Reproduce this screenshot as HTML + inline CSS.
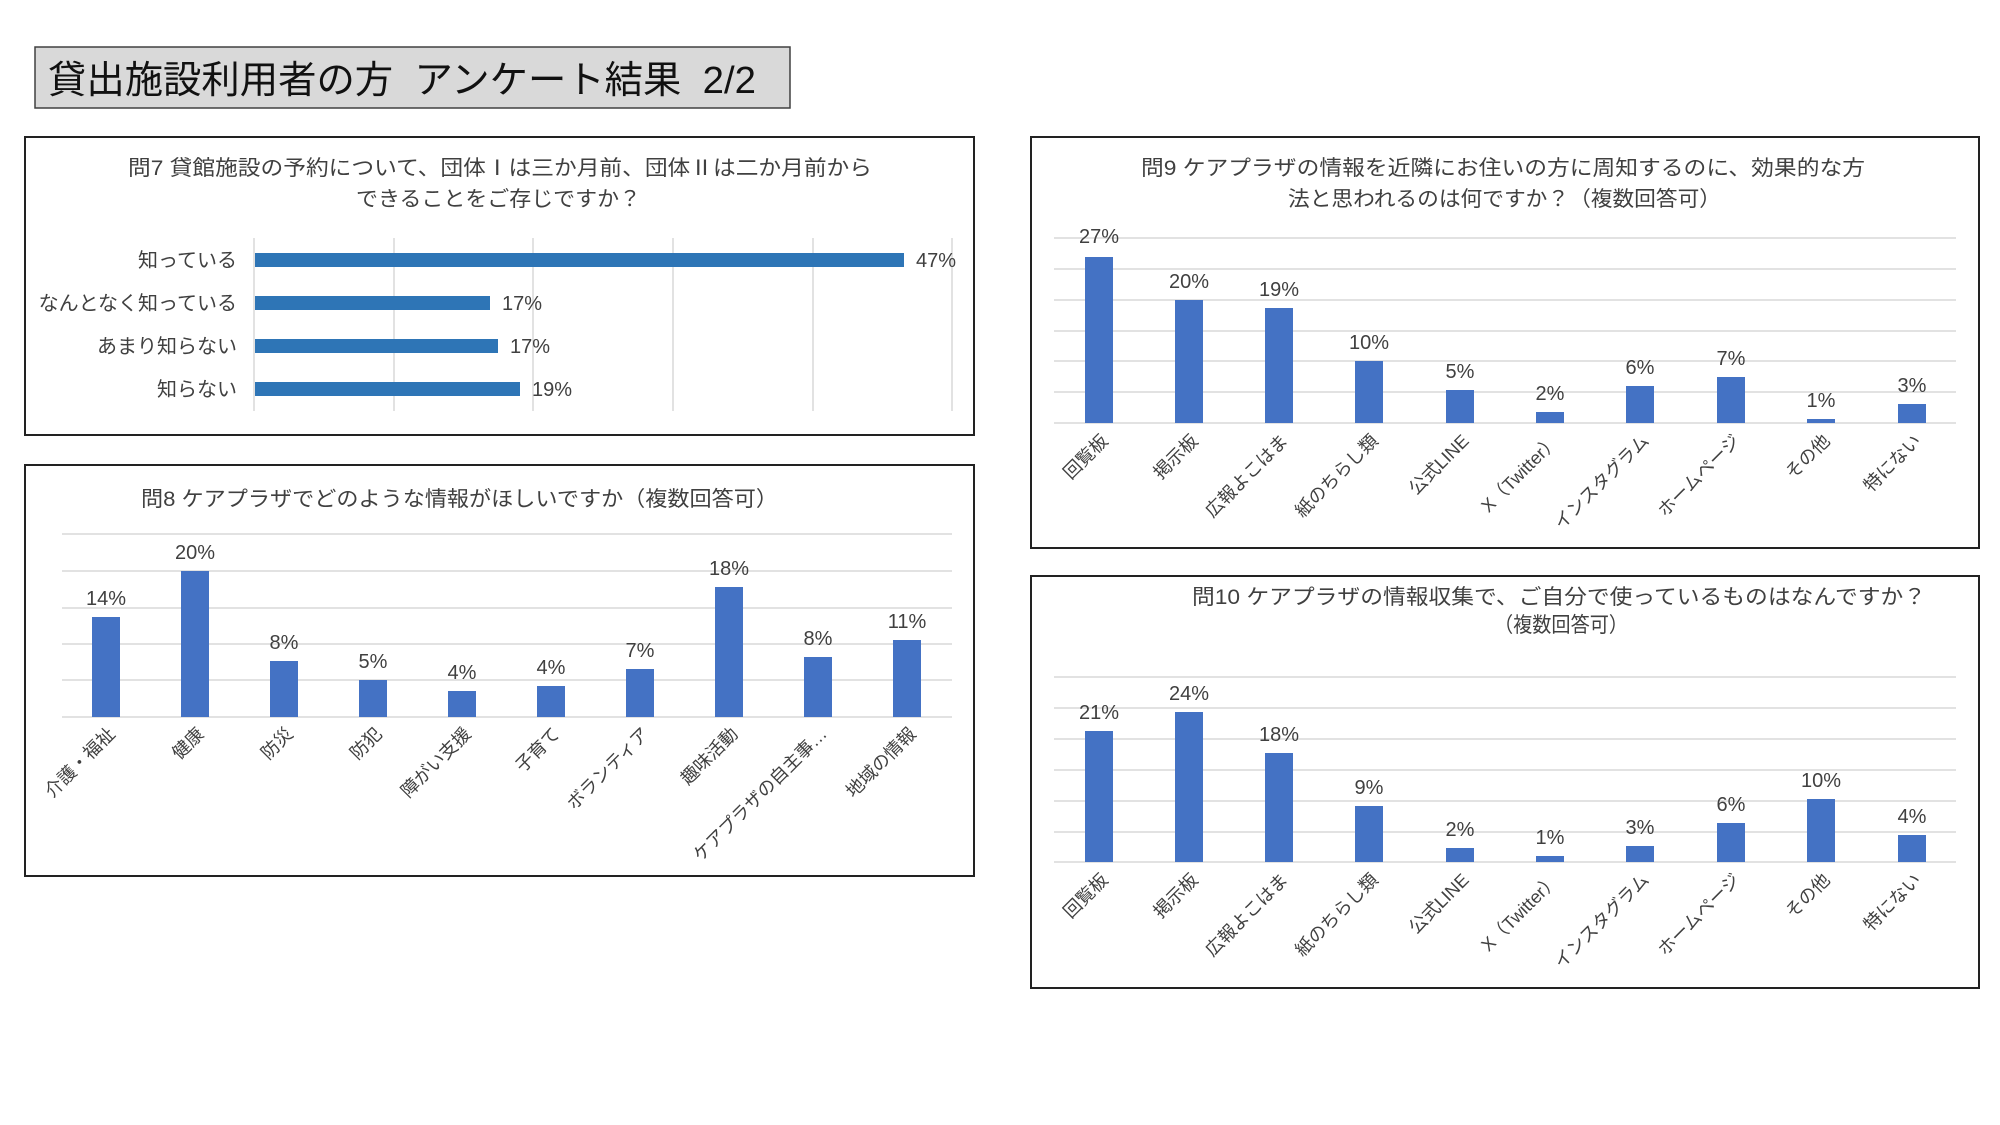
<!DOCTYPE html>
<html><head><meta charset="utf-8"><style>
html,body{margin:0;padding:0;background:#fff;}
svg{display:block;}
text{font-family:"Liberation Sans","Noto Sans CJK JP",sans-serif;fill:#404040;}
.t{font-size:21px;fill:#404040;}
.v{font-size:20px;text-anchor:middle;}
.c{font-size:18px;text-anchor:end;}
.g{stroke:#d9d9d9;stroke-width:1.5;}
.b{fill:#4472c4;}
</style></head><body>
<svg width="2000" height="1125" viewBox="0 0 2000 1125" xmlns="http://www.w3.org/2000/svg">
<rect x="0" y="0" width="2000" height="1125" fill="#fff"/>
<rect x="35" y="47" width="755" height="61" fill="#d9d9d9" stroke="#404040" stroke-width="1.5"/>
<text x="48" y="93" xml:space="preserve" style="font-size:38px;fill:#111;white-space:pre" textLength="708" lengthAdjust="spacingAndGlyphs">貸出施設利用者の方  アンケート結果  2/2</text>

<rect x="25" y="137" width="949" height="298" fill="none" stroke="#222" stroke-width="2"/>
<text class="t" x="128" y="175" textLength="744" lengthAdjust="spacingAndGlyphs">問7 貸館施設の予約について、団体Ⅰは三か月前、団体Ⅱは二か月前から</text>
<text class="t" x="356" y="206" textLength="285" lengthAdjust="spacingAndGlyphs">できることをご存じですか？</text>
<g class="g"><line x1="394" y1="238" x2="394" y2="411"/><line x1="533" y1="238" x2="533" y2="411"/><line x1="673" y1="238" x2="673" y2="411"/><line x1="813" y1="238" x2="813" y2="411"/><line x1="952" y1="238" x2="952" y2="411"/><line x1="254" y1="238" x2="254" y2="411"/></g>
<rect x="255" y="253" width="649" height="14" fill="#2e75b6"/>
<rect x="255" y="296" width="235" height="14" fill="#2e75b6"/>
<rect x="255" y="339" width="243" height="14" fill="#2e75b6"/>
<rect x="255" y="382" width="265" height="14" fill="#2e75b6"/>
<g style="font-size:20px;text-anchor:end"><text x="237" y="267">知っている</text><text x="237" y="310">なんとなく知っている</text><text x="237" y="353">あまり知らない</text><text x="237" y="396">知らない</text></g>
<g style="font-size:20px"><text x="916" y="267">47%</text><text x="502" y="310">17%</text><text x="510" y="353">17%</text><text x="532" y="396">19%</text></g>

<rect x="25" y="465" width="949" height="411" fill="none" stroke="#222" stroke-width="2"/>
<text class="t" x="141" y="506" textLength="637" lengthAdjust="spacingAndGlyphs">問8 ケアプラザでどのような情報がほしいですか（複数回答可）</text>
<g class="g"><line x1="62" y1="534" x2="952" y2="534"/><line x1="62" y1="571" x2="952" y2="571"/><line x1="62" y1="608" x2="952" y2="608"/><line x1="62" y1="644" x2="952" y2="644"/><line x1="62" y1="680" x2="952" y2="680"/><line x1="62" y1="717" x2="952" y2="717"/></g>
<g class="b">
<rect x="92" y="617" width="28" height="100"/><rect x="181" y="571" width="28" height="146"/><rect x="270" y="661" width="28" height="56"/><rect x="359" y="680" width="28" height="37"/><rect x="448" y="691" width="28" height="26"/><rect x="537" y="686" width="28" height="31"/><rect x="626" y="669" width="28" height="48"/><rect x="715" y="587" width="28" height="130"/><rect x="804" y="657" width="28" height="60"/><rect x="893" y="640" width="28" height="77"/>
</g>
<g class="v"><text x="106" y="605">14%</text><text x="195" y="559">20%</text><text x="284" y="649">8%</text><text x="373" y="668">5%</text><text x="462" y="679">4%</text><text x="551" y="674">4%</text><text x="640" y="657">7%</text><text x="729" y="575">18%</text><text x="818" y="645">8%</text><text x="907" y="628">11%</text></g>
<g class="c">
<text x="116" y="735" transform="rotate(-45 116 735)">介護・福祉</text>
<text x="205" y="735" transform="rotate(-45 205 735)">健康</text>
<text x="294" y="735" transform="rotate(-45 294 735)">防災</text>
<text x="383" y="735" transform="rotate(-45 383 735)">防犯</text>
<text x="472" y="735" transform="rotate(-45 472 735)">障がい支援</text>
<text x="561" y="735" transform="rotate(-45 561 735)">子育て</text>
<text x="650" y="735" transform="rotate(-45 650 735)">ボランティア</text>
<text x="739" y="735" transform="rotate(-45 739 735)">趣味活動</text>
<text x="828" y="735" transform="rotate(-45 828 735)">ケアプラザの自主事…</text>
<text x="917" y="735" transform="rotate(-45 917 735)">地域の情報</text>
</g>

<rect x="1031" y="137" width="948" height="411" fill="none" stroke="#222" stroke-width="2"/>
<text class="t" x="1141" y="175" textLength="724" lengthAdjust="spacingAndGlyphs">問9 ケアプラザの情報を近隣にお住いの方に周知するのに、効果的な方</text>
<text class="t" x="1288" y="206" textLength="433" lengthAdjust="spacingAndGlyphs">法と思われるのは何ですか？（複数回答可）</text>
<g class="g"><line x1="1054" y1="238" x2="1956" y2="238"/><line x1="1054" y1="269" x2="1956" y2="269"/><line x1="1054" y1="300" x2="1956" y2="300"/><line x1="1054" y1="331" x2="1956" y2="331"/><line x1="1054" y1="361" x2="1956" y2="361"/><line x1="1054" y1="392" x2="1956" y2="392"/><line x1="1054" y1="423" x2="1956" y2="423"/></g>
<g class="b">
<rect x="1085" y="257" width="28" height="166"/><rect x="1175" y="300" width="28" height="123"/><rect x="1265" y="308" width="28" height="115"/><rect x="1355" y="361" width="28" height="62"/><rect x="1446" y="390" width="28" height="33"/><rect x="1536" y="412" width="28" height="11"/><rect x="1626" y="386" width="28" height="37"/><rect x="1717" y="377" width="28" height="46"/><rect x="1807" y="419" width="28" height="4"/><rect x="1898" y="404" width="28" height="19"/>
</g>
<g class="v"><text x="1099" y="243">27%</text><text x="1189" y="288">20%</text><text x="1279" y="296">19%</text><text x="1369" y="349">10%</text><text x="1460" y="378">5%</text><text x="1550" y="400">2%</text><text x="1640" y="374">6%</text><text x="1731" y="365">7%</text><text x="1821" y="407">1%</text><text x="1912" y="392">3%</text></g>
<g class="c">
<text x="1109" y="442" transform="rotate(-45 1109 442)">回覧板</text>
<text x="1199" y="442" transform="rotate(-45 1199 442)">掲示板</text>
<text x="1289" y="442" transform="rotate(-45 1289 442)">広報よこはま</text>
<text x="1379" y="442" transform="rotate(-45 1379 442)">紙のちらし類</text>
<text x="1470" y="442" transform="rotate(-45 1470 442)">公式LINE</text>
<text x="1560" y="442" transform="rotate(-45 1560 442)">X（Twitter）</text>
<text x="1650" y="442" transform="rotate(-45 1650 442)">インスタグラム</text>
<text x="1741" y="442" transform="rotate(-45 1741 442)">ホームページ</text>
<text x="1831" y="442" transform="rotate(-45 1831 442)">その他</text>
<text x="1922" y="442" transform="rotate(-45 1922 442)">特にない</text>
</g>

<rect x="1031" y="576" width="948" height="412" fill="none" stroke="#222" stroke-width="2"/>
<text class="t" x="1192" y="604" textLength="734" lengthAdjust="spacingAndGlyphs">問10 ケアプラザの情報収集で、ご自分で使っているものはなんですか？</text>
<text class="t" x="1494" y="632" textLength="134" lengthAdjust="spacingAndGlyphs">（複数回答可）</text>
<g class="g"><line x1="1054" y1="677" x2="1956" y2="677"/><line x1="1054" y1="708" x2="1956" y2="708"/><line x1="1054" y1="739" x2="1956" y2="739"/><line x1="1054" y1="770" x2="1956" y2="770"/><line x1="1054" y1="801" x2="1956" y2="801"/><line x1="1054" y1="832" x2="1956" y2="832"/><line x1="1054" y1="862" x2="1956" y2="862"/></g>
<g class="b">
<rect x="1085" y="731" width="28" height="131"/><rect x="1175" y="712" width="28" height="150"/><rect x="1265" y="753" width="28" height="109"/><rect x="1355" y="806" width="28" height="56"/><rect x="1446" y="848" width="28" height="14"/><rect x="1536" y="856" width="28" height="6"/><rect x="1626" y="846" width="28" height="16"/><rect x="1717" y="823" width="28" height="39"/><rect x="1807" y="799" width="28" height="63"/><rect x="1898" y="835" width="28" height="27"/>
</g>
<g class="v"><text x="1099" y="719">21%</text><text x="1189" y="700">24%</text><text x="1279" y="741">18%</text><text x="1369" y="794">9%</text><text x="1460" y="836">2%</text><text x="1550" y="844">1%</text><text x="1640" y="834">3%</text><text x="1731" y="811">6%</text><text x="1821" y="787">10%</text><text x="1912" y="823">4%</text></g>
<g class="c">
<text x="1109" y="881" transform="rotate(-45 1109 881)">回覧板</text>
<text x="1199" y="881" transform="rotate(-45 1199 881)">掲示板</text>
<text x="1289" y="881" transform="rotate(-45 1289 881)">広報よこはま</text>
<text x="1379" y="881" transform="rotate(-45 1379 881)">紙のちらし類</text>
<text x="1470" y="881" transform="rotate(-45 1470 881)">公式LINE</text>
<text x="1560" y="881" transform="rotate(-45 1560 881)">X（Twitter）</text>
<text x="1650" y="881" transform="rotate(-45 1650 881)">インスタグラム</text>
<text x="1741" y="881" transform="rotate(-45 1741 881)">ホームページ</text>
<text x="1831" y="881" transform="rotate(-45 1831 881)">その他</text>
<text x="1922" y="881" transform="rotate(-45 1922 881)">特にない</text>
</g>
</svg>
</body></html>
